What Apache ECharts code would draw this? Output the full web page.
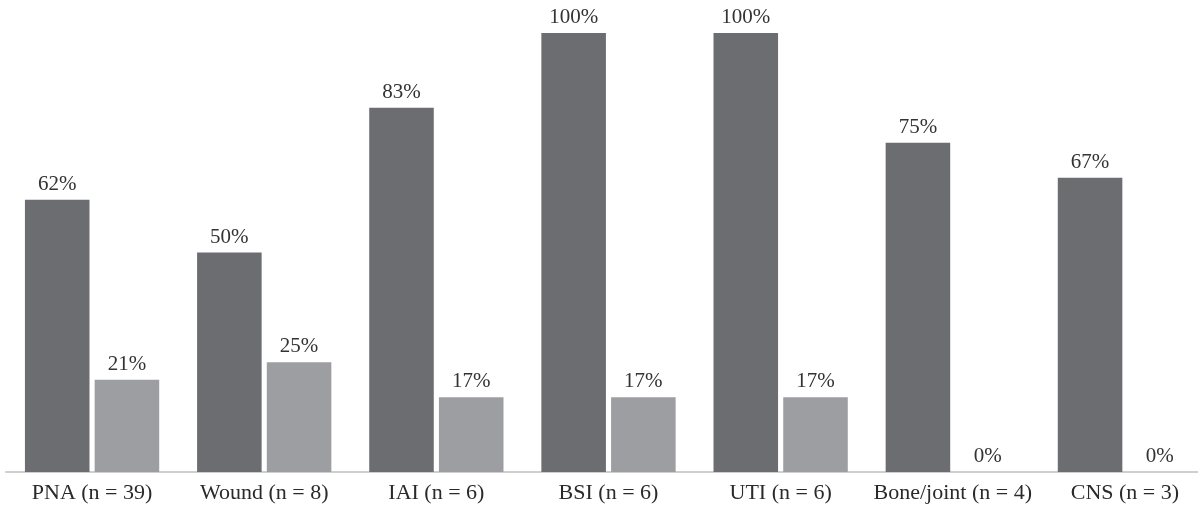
<!DOCTYPE html>
<html>
<head>
<meta charset="utf-8">
<script src="https://cdn.jsdelivr.net/npm/echarts@6/dist/echarts.min.js"></script>
<style>
html,body{margin:0;padding:0;background:#fff;}
#c{width:1198px;height:508px;}
</style>
</head>
<body>
<div id="c"></div>
<script>
const categories = ['PNA (n = 39)', 'Wound (n = 8)', 'IAI (n = 6)', 'BSI (n = 6)', 'UTI (n = 6)', 'Bone/joint (n = 4)', 'CNS (n = 3)'];
const seriesA = [62, 50, 83, 100, 100, 75, 67];
const seriesB = [21, 25, 17, 17, 17, 0, 0];

const FONT = '"Liberation Serif", "DejaVu Serif", serif';
const chart = echarts.init(document.getElementById('c'), null, {renderer: 'canvas'});
const labelCfg = {
  show: true, position: 'top', distance: 5,
  formatter: p => p.value + '%',
  fontFamily: FONT, fontSize: 21, color: '#333333'
};
chart.setOption({
  animation: false,
  grid: {left: 6, top: 33, bottom: 36, width: 1205, outerBoundsMode: 'none', containLabel: false},
  xAxis: {
    type: 'category', data: categories,
    axisLine: {show: true, lineStyle: {color: '#cfcfcf', width: 2}},
    axisTick: {show: false},
    axisLabel: {fontFamily: FONT, fontSize: 22, color: '#2a2a2a', margin: 10, interval: 0}
  },
  yAxis: {type: 'value', min: 0, max: 100, show: false, splitLine: {show: false}},
  series: [
    {type: 'bar', data: seriesA, barGap: '8%', barCategoryGap: '22%',
     itemStyle: {color: '#6c6d71'}, label: labelCfg},
    {type: 'bar', data: seriesB,
     itemStyle: {color: '#9d9ea1'}, label: labelCfg}
  ]
});
</script>
</body>
</html>
